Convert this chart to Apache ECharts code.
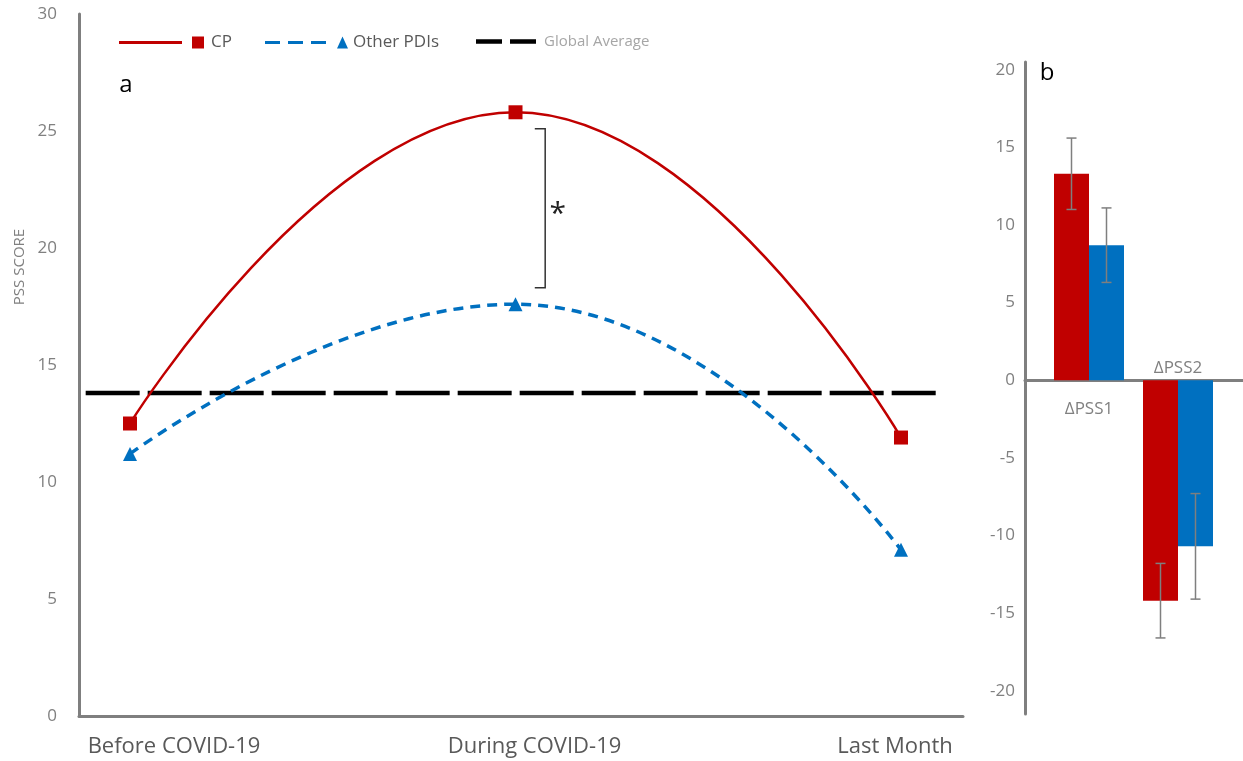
<!DOCTYPE html>
<html><head><meta charset="utf-8">
<script src="https://cdn.jsdelivr.net/npm/echarts@6/dist/echarts.min.js"></script>
<style>html,body{margin:0;padding:0;background:#fff}#c{width:1243px;height:761px}</style>
</head><body><div id="c"></div>
<script>
// ---- Panel a data ----
const periods = ['Before COVID-19', 'During COVID-19', 'Last Month'];
const cpScores = [12.5, 25.8, 11.9];
const otherScores = [11.2, 17.6, 7.1];
const globalAverage = 13.8;
const avgSpan = [-0.115, 2.09];          // x-extent of the global average line (period index units)
const yRangeA = [0, 30, 5];              // min, max, step of PSS SCORE axis
const xDomainA = [-0.1323, 2.1608];      // period index range shown
const bracketX = [1.05, 1.077];          // significance bracket: cap end, vertical bar
const bracketY = [18.3, 25.1];           // significance bracket: low, high
const starPos = [1.115, 21.7];           // asterisk

// ---- Panel b data ----
const deltaCats = ['ΔPSS1', 'ΔPSS2'];
const cpDelta = [13.3, -14.2];
const otherDelta = [8.7, -10.7];
const cpDeltaErr = [2.3, 2.4];
const otherDeltaErr = [2.4, 3.4];
const yRangeB = [-21.5, 20.5, 5];        // axis extent and labelled step

const RED = '#C00000', BLUE = '#0070C0', GRAY = '#7f7f7f', LABEL = '#808080';
const FONT = '"Open Sans", sans-serif';
const BAR_W = 35;

// panel b grid geometry (layout), used to place category labels at the zero line
const H = 761, GB_TOP = 62, GB_BOTTOM = 47;
const gbHeight = H - GB_TOP - GB_BOTTOM;
const zeroFromTop = gbHeight * (yRangeB[1] - 0) / (yRangeB[1] - yRangeB[0]);

const chart = echarts.init(document.getElementById('c'), null, {renderer: 'canvas'});

function errorBars(name, vals, errs, side) {
  return {
    type: 'custom', name: name, xAxisIndex: 3, yAxisIndex: 3, z: 5, silent: true,
    data: vals.map((v, i) => [i, v - errs[i], v + errs[i]]),
    encode: {x: 0, y: [1, 2]},
    renderItem: function (params, api) {
      const lo = api.coord([api.value(0), api.value(1)]);
      const hi = api.coord([api.value(0), api.value(2)]);
      const x = lo[0] + side * BAR_W / 2;
      const cap = 5;
      const st = {stroke: GRAY, lineWidth: 1.5};
      return {type: 'group', children: [
        {type: 'line', shape: {x1: x, y1: lo[1], x2: x, y2: hi[1]}, style: st},
        {type: 'line', shape: {x1: x - cap, y1: lo[1], x2: x + cap, y2: lo[1]}, style: st},
        {type: 'line', shape: {x1: x - cap, y1: hi[1], x2: x + cap, y2: hi[1]}, style: st}
      ]};
    }
  };
}

const option = {
  animation: false,
  backgroundColor: '#fff',
  textStyle: {fontFamily: FONT},
  legend: [
    {left: 114, top: 29, selectedMode: false, itemWidth: 85, itemHeight: 12, itemGap: 0,
     itemStyle: {borderWidth: 0},
     textStyle: {color: '#595959', fontSize: 17, fontFamily: FONT, padding: [0, 0, 0, 2]},
     data: [{name: 'CP', icon: 'path://M0,4.5H63V7.5H0Z M73,0H85V12H73Z'}]},
    {left: 260, top: 29, selectedMode: false, itemWidth: 83, itemHeight: 12, itemGap: 0,
     itemStyle: {borderWidth: 0},
     textStyle: {color: '#595959', fontSize: 17, fontFamily: FONT},
     data: [{name: 'Other PDIs', icon: 'path://M0,4.5H15V7.5H0Z M23,4.5H38V7.5H23Z M46,4.5H61V7.5H46Z M72,12L77.5,0L83,12Z'}]},
    {left: 471, top: 29, selectedMode: false, itemWidth: 60, itemHeight: 4.5, itemGap: 0,
     itemStyle: {borderWidth: 0},
     textStyle: {color: '#a6a6a6', fontSize: 15, fontFamily: FONT, padding: [0, 0, 0, 3]},
     data: [{name: 'Global Average', icon: 'path://M0,0H26V4.5H0Z M34,0H60V4.5H34Z'}]}
  ],
  graphic: [
    {type: 'text', x: 20, y: 267, rotation: Math.PI / 2,
     style: {text: 'PSS SCORE', fontSize: 15, fontFamily: FONT, fill: LABEL, align: 'center', verticalAlign: 'middle'}},
    {type: 'text', x: 126, y: 85,
     style: {text: 'a', fontSize: 24, fontFamily: FONT, fill: '#000', align: 'center', verticalAlign: 'middle'}},
    {type: 'text', x: 1047, y: 73,
     style: {text: 'b', fontSize: 24, fontFamily: FONT, fill: '#000', align: 'center', verticalAlign: 'middle'}}
  ],
  grid: [
    {left: 79, right: 280, top: 14, bottom: 45, outerBoundsMode: 'none'},
    {left: 174, right: 348, top: 14, bottom: 45, outerBoundsMode: 'none'},
    {left: 1025, right: 0, top: GB_TOP, bottom: GB_BOTTOM, outerBoundsMode: 'none'},
    {left: 1044.5, right: 20.5, top: GB_TOP, bottom: GB_BOTTOM, outerBoundsMode: 'none'}
  ],
  xAxis: [
    {gridIndex: 0, type: 'value', min: xDomainA[0], max: xDomainA[1],
     axisLine: {show: true, onZero: false, lineStyle: {color: GRAY, width: 3}},
     axisTick: {show: false}, axisLabel: {show: false}, splitLine: {show: false}},
    {gridIndex: 1, type: 'category', data: periods, boundaryGap: false,
     axisLine: {show: false}, axisTick: {show: false}, splitLine: {show: false},
     axisLabel: {color: '#595959', fontSize: 22, fontFamily: FONT, margin: 20}},
    {gridIndex: 2, type: 'category', data: ['', ''],
     axisLine: {show: true, lineStyle: {color: GRAY, width: 3}},
     axisTick: {show: false}, axisLabel: {show: false}, splitLine: {show: false}},
    {gridIndex: 3, type: 'category', data: deltaCats, position: 'bottom',
     offset: -(gbHeight - zeroFromTop),
     axisLine: {show: false, onZero: false},
     axisTick: {show: false}, splitLine: {show: false},
     axisLabel: {color: LABEL, fontSize: 17, fontFamily: FONT, margin: 20,
       formatter: (v, i) => i === 0 ? v : ''}},
    {gridIndex: 3, type: 'category', data: deltaCats, position: 'top',
     offset: -zeroFromTop,
     axisLine: {show: false, onZero: false},
     axisTick: {show: false}, splitLine: {show: false},
     axisLabel: {color: LABEL, fontSize: 17, fontFamily: FONT, margin: 4,
       formatter: (v, i) => i === 1 ? v : ''}}
  ],
  yAxis: [
    {gridIndex: 0, type: 'value', min: yRangeA[0], max: yRangeA[1], interval: yRangeA[2],
     axisLine: {show: true, onZero: false, lineStyle: {color: GRAY, width: 3}},
     axisTick: {show: false}, splitLine: {show: false},
     axisLabel: {color: LABEL, fontSize: 17, fontFamily: FONT, margin: 22}},
    {gridIndex: 1, type: 'value', min: yRangeA[0], max: yRangeA[1], show: false},
    {gridIndex: 2, type: 'value', min: yRangeB[0], max: yRangeB[1], interval: 0.5,
     axisLine: {show: true, onZero: false, lineStyle: {color: GRAY, width: 3}},
     axisTick: {show: false}, splitLine: {show: false},
     axisLabel: {color: LABEL, fontSize: 17, fontFamily: FONT, margin: 10,
       formatter: v => (Math.abs(v % yRangeB[2]) < 1e-9 ? String(Math.round(v)) : '')}},
    {gridIndex: 3, type: 'value', min: yRangeB[0], max: yRangeB[1],
     axisLine: {show: false}, axisTick: {show: false}, axisLabel: {show: false}, splitLine: {show: false}}
  ],
  series: [
    {type: 'line', name: 'Global Average', xAxisIndex: 0, yAxisIndex: 0, z: 2, silent: true,
     data: avgSpan.map(x => [x, globalAverage]), symbol: 'none',
     itemStyle: {color: '#000'},
     lineStyle: {color: '#000', width: 4.5, type: [54, 8]}},
    {type: 'line', name: 'CP', xAxisIndex: 0, yAxisIndex: 0, z: 4, smooth: 0.5,
     data: cpScores.map((v, i) => [i, v]), symbol: 'rect', symbolSize: 14,
     itemStyle: {color: RED, borderWidth: 0},
     lineStyle: {color: RED, width: 2.5}},
    {type: 'line', name: 'Other PDIs', xAxisIndex: 0, yAxisIndex: 0, z: 3, smooth: 0.5,
     data: otherScores.map((v, i) => [i, v]), symbol: 'triangle', symbolSize: 14,
     itemStyle: {color: BLUE, borderWidth: 0},
     lineStyle: {color: BLUE, width: 3.5, type: [10, 7]}},
    {type: 'custom', name: 'significance', xAxisIndex: 0, yAxisIndex: 0, z: 5, silent: true,
     data: [[bracketX[0], bracketX[1], bracketY[0], bracketY[1], starPos[0], starPos[1]]],
     encode: {x: [0, 1, 4], y: [2, 3, 5]},
     renderItem: function (params, api) {
       const tl = api.coord([api.value(0), api.value(3)]);
       const tr = api.coord([api.value(1), api.value(3)]);
       const bl = api.coord([api.value(0), api.value(2)]);
       const br = api.coord([api.value(1), api.value(2)]);
       const s = api.coord([api.value(4), api.value(5)]);
       return {type: 'group', children: [
         {type: 'polyline', shape: {points: [tl, tr, br, bl]},
          style: {stroke: '#333', lineWidth: 1.5, fill: null}},
         {type: 'text', x: s[0] - 2, y: s[1] + 6,
          style: {text: '*', fontSize: 30, fontFamily: FONT, fill: '#222', align: 'center', verticalAlign: 'middle'}}
       ]};
     }},
    {type: 'bar', name: 'CP change', xAxisIndex: 3, yAxisIndex: 3, data: cpDelta,
     barWidth: BAR_W, barGap: '0%', itemStyle: {color: RED}},
    {type: 'bar', name: 'Other PDIs change', xAxisIndex: 3, yAxisIndex: 3, data: otherDelta,
     barWidth: BAR_W, barGap: '0%', itemStyle: {color: BLUE}},
    errorBars('CP error', cpDelta, cpDeltaErr, -1),
    errorBars('Other PDIs error', otherDelta, otherDeltaErr, 1)
  ]
};
chart.setOption(option);
</script>
</body></html>
